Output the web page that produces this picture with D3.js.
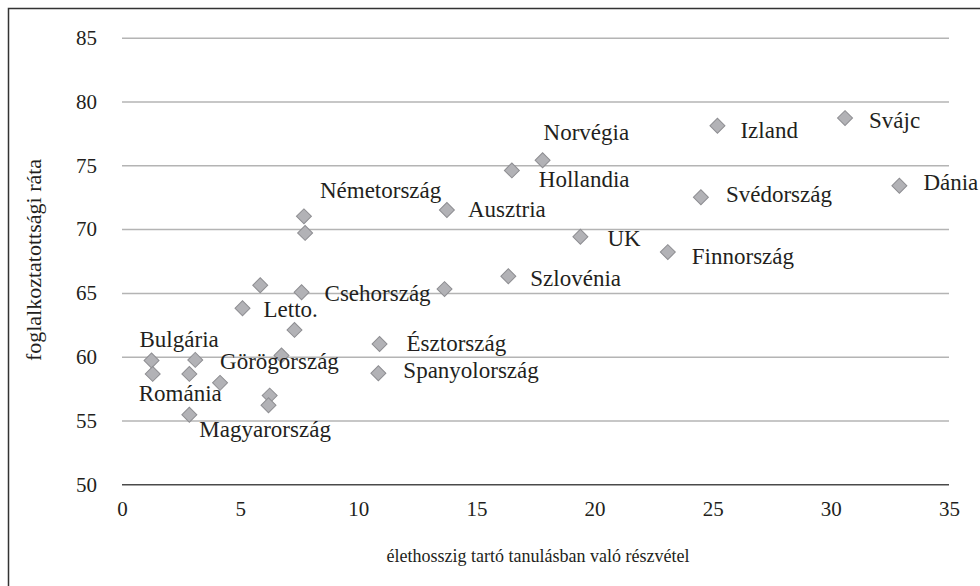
<!DOCTYPE html>
<html>
<head>
<meta charset="utf-8">
<script src="https://cdn.jsdelivr.net/npm/d3@7/dist/d3.min.js"></script>
<style>
  body { margin: 0; background: #fff; }
  svg { display: block; }
  .grid line { stroke: #b4b4b4; stroke-width: 1.5; }
  .pt { fill: #b2b2b6; stroke: #8e8e92; stroke-width: 1; }
</style>
</head>
<body>
<svg width="980" height="586"></svg>
<script>
// participation in lifelong learning (%) vs employment rate (%)
const countries = ['Svájc', 'Izland', 'Norvégia', 'Hollandia', 'Dánia', 'Svédország', 'Ausztria',
  'Németország', '', 'UK', 'Finnország', 'Szlovénia', '', '', 'Csehország', 'Letto.', '',
  'Észtország', '', 'Bulgária', '', 'Spanyolország', 'Románia', '', 'Görögország', '', '', 'Magyarország'];
const learning = [30.6, 25.2, 17.8, 16.5, 32.9, 24.5, 13.75,
  7.7, 7.75, 19.4, 23.1, 16.35, 13.65, 5.85, 7.6, 5.1, 7.3,
  10.9, 6.75, 1.25, 3.1, 10.85, 1.3, 2.85, 4.15, 6.25, 6.2, 2.85];
const employment = [78.7, 78.1, 75.4, 74.6, 73.4, 72.5, 71.5,
  71.0, 69.7, 69.4, 68.2, 66.3, 65.3, 65.6, 65.05, 63.8, 62.1,
  61.0, 60.1, 59.7, 59.75, 58.7, 58.65, 58.65, 57.95, 56.95, 56.2, 55.45];
const xTicks = [0, 5, 10, 15, 20, 25, 30, 35];
const yTicks = [50, 55, 60, 65, 70, 75, 80, 85];
const xTitle = 'élethosszig tartó tanulásban való részvétel';
const yTitle = 'foglalkoztatottsági ráta';

// where each label sits relative to its marker (left edge, baseline)
const labelOffset = {
  'Svájc': [24, 10], 'Izland': [23, 12], 'Norvégia': [1, -20], 'Hollandia': [27, 17],
  'Dánia': [24, 4], 'Svédország': [25, 5], 'Ausztria': [21, 7], 'Németország': [16, -18],
  'UK': [27, 9], 'Finnország': [24, 12], 'Szlovénia': [22, 10], 'Csehország': [23, 9],
  'Letto.': [21, 9], 'Észtország': [27, 7], 'Bulgária': [-12, -14], 'Spanyolország': [25, 5],
  'Románia': [-14, 27], 'Görögország': [0, -14], 'Magyarország': [10, 22]
};

const FONT = 'Liberation Serif';
const INK = '#231f20';

const svg = d3.select('svg');
const margin = { left: 122, right: 31, top: 37.7, bottom: 101.7 };
const width = 980 - margin.left - margin.right;
const height = 586 - margin.top - margin.bottom;

// outer frame, open on the right and bottom like the source
svg.append('rect')
  .attr('x', 8.5).attr('y', 8.5)
  .attr('width', 990).attr('height', 600)
  .attr('fill', 'none').attr('stroke', '#333').attr('stroke-width', 1.5);

const g = svg.append('g').attr('transform', `translate(${margin.left},${margin.top})`);

const x = d3.scaleLinear().domain([0, 35]).range([0, width]);
const y = d3.scaleLinear().domain([50, 85]).range([height, 0]);

const yAxis = g.append('g').attr('class', 'grid')
  .call(d3.axisLeft(y).tickValues(yTicks).tickSize(-width).tickPadding(25))
  .attr('font-family', FONT);
yAxis.select('.domain').remove();
yAxis.selectAll('.tick text').attr('font-size', 21).attr('fill', INK);
yAxis.selectAll('.tick').filter(d => d === 50).select('line')
  .style('stroke', '#4a4a4a');

const xAxis = g.append('g').attr('transform', `translate(0,${height})`)
  .call(d3.axisBottom(x).tickValues(xTicks).tickSize(0).tickPadding(17))
  .attr('font-family', FONT);
xAxis.select('.domain').remove();
xAxis.selectAll('.tick text').attr('font-size', 21).attr('fill', INK);

const data = learning.map((v, i) => ({ name: countries[i], x: v, y: employment[i] }));

const diamond = d3.symbol().type(d3.symbolSquare).size(112);
g.selectAll('.pt').data(data).enter().append('path')
  .attr('class', 'pt')
  .attr('d', diamond)
  .attr('transform', d => `translate(${x(d.x)},${y(d.y)}) rotate(45)`);

g.selectAll('.lbl').data(data.filter(d => d.name)).enter().append('text')
  .attr('class', 'lbl')
  .attr('font-family', FONT).attr('font-size', 23).attr('fill', INK)
  .attr('x', d => x(d.x) + labelOffset[d.name][0])
  .attr('y', d => y(d.y) + labelOffset[d.name][1])
  .text(d => d.name);

svg.append('text')
  .attr('x', 538).attr('y', 562)
  .attr('text-anchor', 'middle')
  .attr('font-family', FONT).attr('font-size', 18).attr('fill', INK)
  .text(xTitle);

svg.append('text')
  .attr('transform', 'translate(41,260) rotate(-90)')
  .attr('text-anchor', 'middle')
  .attr('font-family', FONT).attr('font-size', 22).attr('fill', INK)
  .text(yTitle);
</script>
</body>
</html>
